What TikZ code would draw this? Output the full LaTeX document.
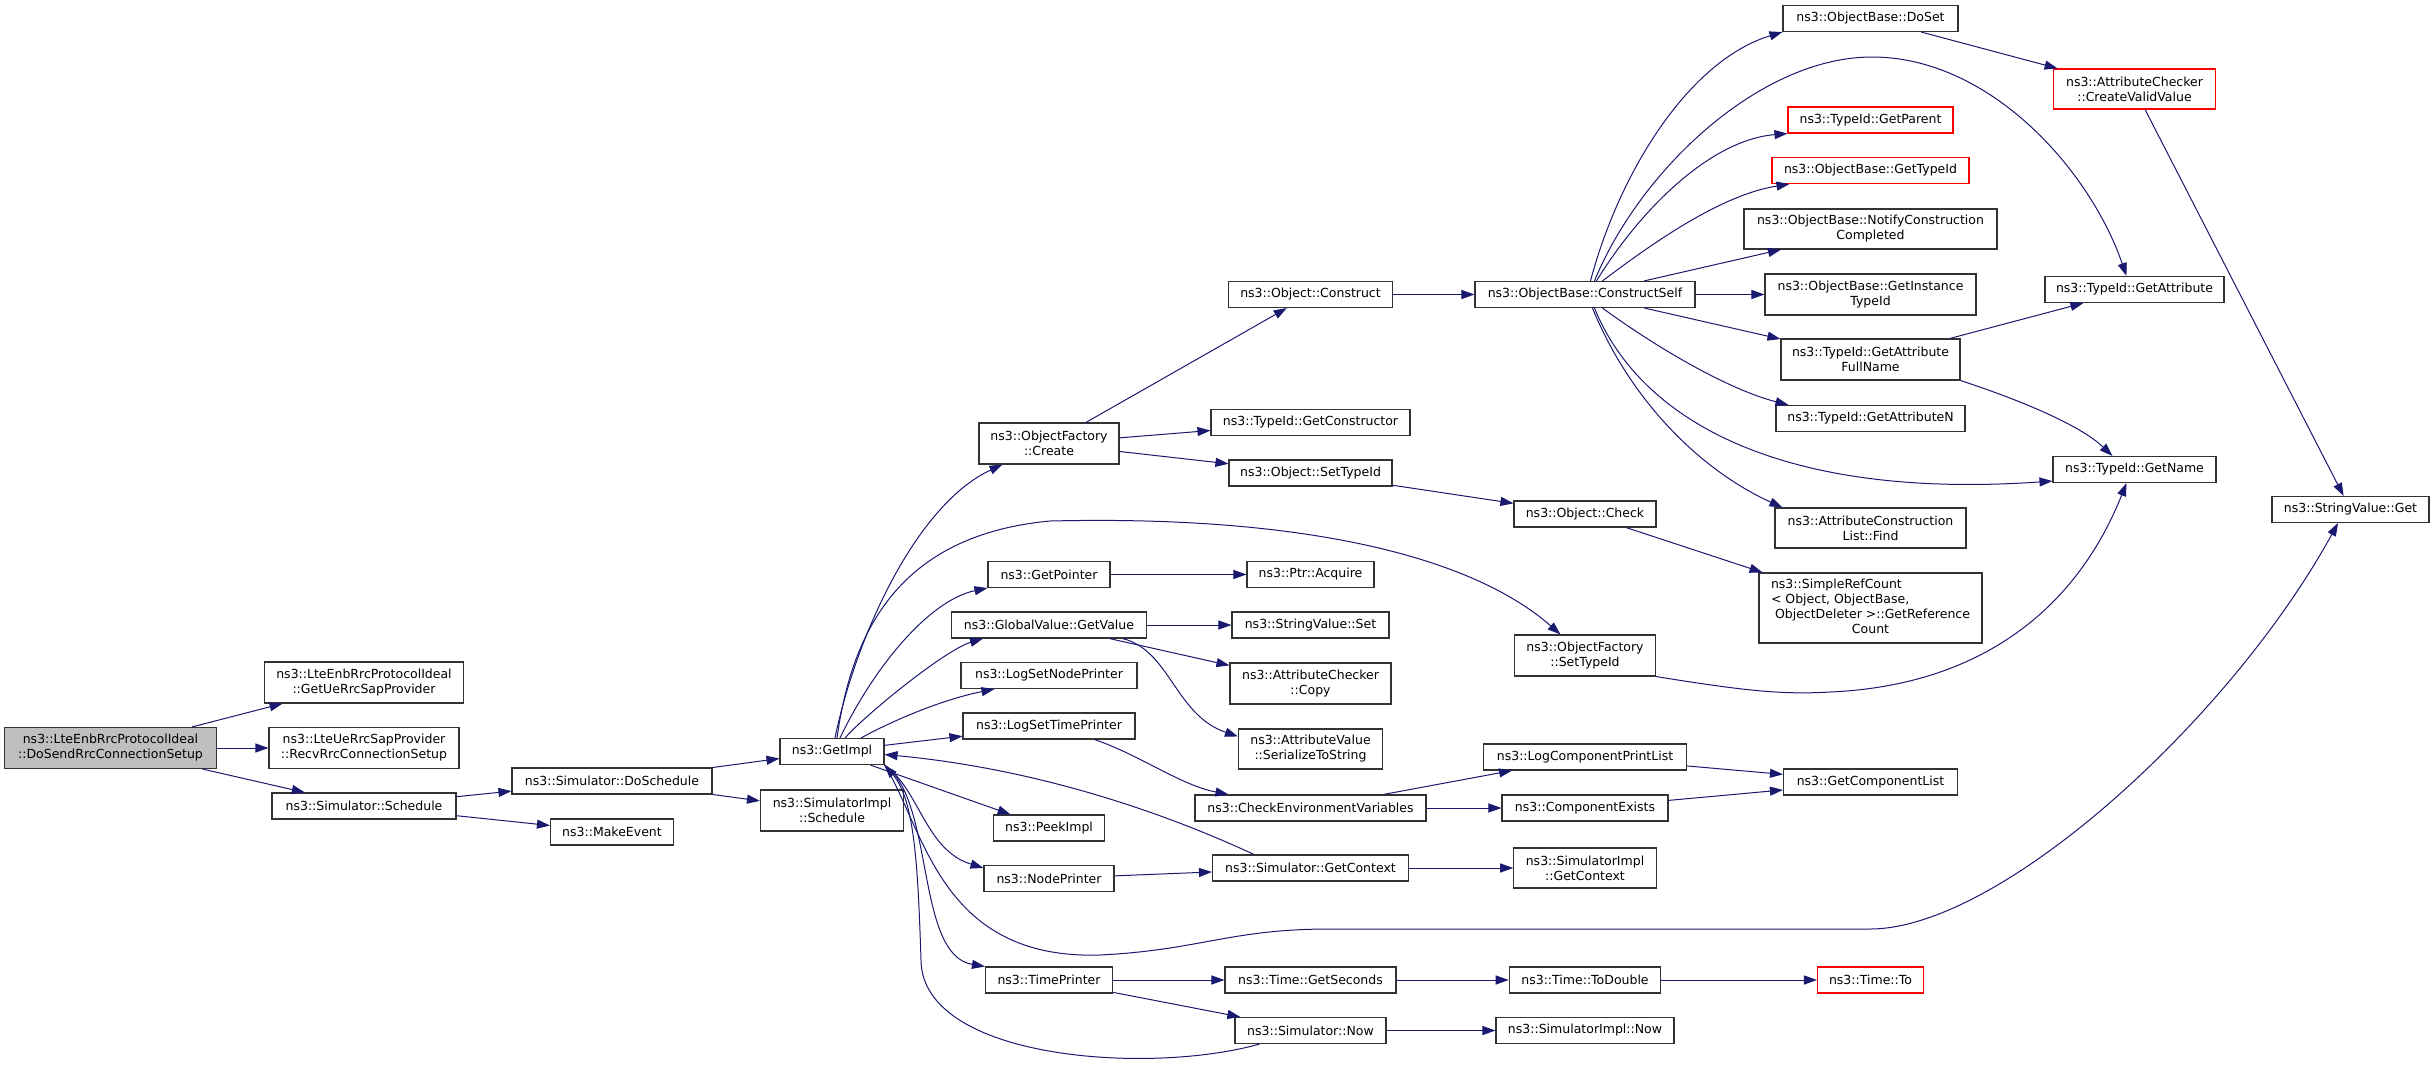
\documentclass[tikz,border=0pt]{standalone}
\usepackage{fontspec}
\setmainfont{DejaVu Sans}
\usepackage{tikz}
\usetikzlibrary{arrows.meta}

\definecolor{callblue}{HTML}{191970}
\definecolor{boxline}{HTML}{333333}
\definecolor{rootgray}{HTML}{BFBFBF}
\definecolor{cutred}{HTML}{FF0000}

\tikzset{
  fn/.style={draw=boxline, fill=white, line width=1.1pt, minimum height=26pt,
    inner xsep=3pt, inner ysep=2pt, align=center, font=\fontsize{12.5}{15}\selectfont},
  fnred/.style={fn, draw=cutred},
  fnroot/.style={fn, fill=rootgray},
  call/.style={draw=callblue, line width=1pt, -{Triangle[length=13pt, width=9pt]}},
}

\begin{document}
\begin{tikzpicture}[x=1pt, y=-1pt]
	\path[use as bounding box, fill=white] (0,0) rectangle (2435,1066);
	%nodes
	\node (root)[fnroot, minimum width=212pt, minimum height=41pt] at (110.5,748) {ns3::LteEnbRrcProtocolIdeal\\::DoSendRrcConnectionSetup};
	\node (recvrrc)[fn, right of=root, node distance=253.5pt, minimum width=190pt, minimum height=41pt] {ns3::LteUeRrcSapProvider\\::RecvRrcConnectionSetup};
	\node (getuerrc)[fn, above of=recvrrc, node distance=65.5pt, minimum width=199pt, minimum height=41pt] {ns3::LteEnbRrcProtocolIdeal\\::GetUeRrcSapProvider};
	\node (schedule)[fn, below of=recvrrc, node distance=58pt, minimum width=184pt] {ns3::Simulator::Schedule};
	
	\node (doschedule)[fn, minimum width=200pt] at (612,781) {ns3::Simulator::DoSchedule};
	\node (makeevent)[fn, below of=doschedule, node distance=51pt, minimum width=123pt] {ns3::MakeEvent};
	
	\node (getimpl)[fn, minimum width=104pt] at (832,751.5) {ns3::GetImpl};
	\node (simimplschedule)[fn, below of=getimpl, node distance=59pt, minimum width=143pt, minimum height=41pt] {ns3::SimulatorImpl\\::Schedule};
	
	\node (logtimeprinter)[fn, minimum width=172pt] at (1049,726) {ns3::LogSetTimePrinter};
	\node (lognodeprinter)[fn, above of=logtimeprinter, node distance=50.5pt, minimum width=176pt] {ns3::LogSetNodePrinter};
	\node (getvalue)[fn, above of=lognodeprinter, node distance=50.5pt, minimum width=195pt] {ns3::GlobalValue::GetValue};
	\node (getpointer)[fn, above of=getvalue, node distance=50.5pt, minimum width=122pt] {ns3::GetPointer};
	\node (create)[fn, above of=getpointer, node distance=131pt, minimum width=140pt, minimum height=41pt] {ns3::ObjectFactory\\::Create};
	\node (peekimpl)[fn, below of=logtimeprinter, node distance=102pt, minimum width=111pt] {ns3::PeekImpl};
	\node (nodeprinter)[fn, below of=peekimpl, node distance=50.5pt, minimum width=130pt] {ns3::NodePrinter};
	\node (timeprinter)[fn, below of=nodeprinter, node distance=101.5pt, minimum width=127pt] {ns3::TimePrinter};
	
	\node (construct)[fn, minimum width=164pt] at (1310.5,294.5) {ns3::Object::Construct};
	\node (getconstructor)[fn, minimum width=199pt] at (1310.5,422.5) {ns3::TypeId::GetConstructor};
	\node (objsettypeid)[fn, below of=getconstructor, node distance=50.5pt, minimum width=163pt] {ns3::Object::SetTypeId};
	\node (acquire)[fn, right of=getpointer, node distance=261.5pt, minimum width=127pt] {ns3::Ptr::Acquire};
	\node (stringset)[fn, right of=getvalue, node distance=261.5pt, minimum width=157pt] {ns3::StringValue::Set};
	\node (checkercopy)[fn, below of=stringset, node distance=58.5pt, minimum width=161pt, minimum height=41pt] {ns3::AttributeChecker\\::Copy};
	\node (serialize)[fn, below of=checkercopy, node distance=65.5pt, minimum width=144pt, minimum height=40pt] {ns3::AttributeValue\\::SerializeToString};
	\node (checkenv)[fn, below of=serialize, node distance=59pt, minimum width=231pt] {ns3::CheckEnvironmentVariables};
	\node (getcontext)[fn, below of=checkenv, node distance=60pt, minimum width=196pt] {ns3::Simulator::GetContext};
	\node (getseconds)[fn, right of=timeprinter, node distance=261.5pt, minimum width=171pt] {ns3::Time::GetSeconds};
	\node (simnow)[fn, below of=getseconds, node distance=50.5pt, minimum width=151pt] {ns3::Simulator::Now};
	
	\node (constructself)[fn, right of=construct, node distance=274.5pt, minimum width=220pt] {ns3::ObjectBase::ConstructSelf};
	\node (objcheck)[fn, minimum width=142pt] at (1585,514) {ns3::Object::Check};
	\node (factsettypeid)[fn, below of=objcheck, node distance=141.5pt, minimum width=141pt, minimum height=41pt] {ns3::ObjectFactory\\::SetTypeId};
	\node (compexists)[fn, right of=checkenv, node distance=274.5pt, minimum width=166pt] {ns3::ComponentExists};
	\node (logcomplist)[fn, above of=compexists, node distance=51pt, minimum width=203pt] {ns3::LogComponentPrintList};
	\node (implgetcontext)[fn, right of=getcontext, node distance=274.5pt, minimum width=142.5pt, minimum height=40pt] {ns3::SimulatorImpl\\::GetContext};
	\node (todouble)[fn, right of=getseconds, node distance=274.5pt, minimum width=151.5pt] {ns3::Time::ToDouble};
	\node (implnow)[fn, right of=simnow, node distance=274.5pt, minimum width=178pt] {ns3::SimulatorImpl::Now};
	
	\node (instancetypeid)[fn, right of=constructself, node distance=285.5pt, minimum width=211pt, minimum height=41pt] {ns3::ObjectBase::GetInstance\\TypeId};
	\node (notify)[fn, above of=instancetypeid, node distance=65.5pt, minimum width=253pt, minimum height=40pt] {ns3::ObjectBase::NotifyConstruction\\Completed};
	\node (gettypeid)[fnred, above of=notify, node distance=58.5pt, minimum width=197pt] {ns3::ObjectBase::GetTypeId};
	\node (getparent)[fnred, above of=gettypeid, node distance=50.5pt, minimum width=165pt] {ns3::TypeId::GetParent};
	\node (doset)[fn, above of=getparent, node distance=101.5pt, minimum width=175pt] {ns3::ObjectBase::DoSet};
	\node (attrfullname)[fn, below of=instancetypeid, node distance=65pt, minimum width=179pt, minimum height=41pt] {ns3::TypeId::GetAttribute\\FullName};
	\node (getattributen)[fn, below of=attrfullname, node distance=59pt, minimum width=189pt] {ns3::TypeId::GetAttributeN};
	\node (attrfind)[fn, below of=getattributen, node distance=109.5pt, minimum width=191pt, minimum height=40pt] {ns3::AttributeConstruction\\List::Find};
	\node (refcount)[fn, below of=attrfind, node distance=80pt, minimum width=223pt, minimum height=70pt] {\begin{tabular}{@{}l@{}}ns3::SimpleRefCount\\\textless{} Object, ObjectBase,\\\ ObjectDeleter \textgreater::GetReference\\\multicolumn{1}{@{}c@{}}{Count}\end{tabular}};
	\node (getcomplist)[fn, minimum width=174pt] at (1870.5,782) {ns3::GetComponentList};
	\node (timeto)[fnred, right of=todouble, node distance=285.5pt, minimum width=106pt] {ns3::Time::To};
	
	\node (createvalid)[fnred, minimum width=162pt, minimum height=40pt] at (2134.5,89) {ns3::AttributeChecker\\::CreateValidValue};
	\node (getattribute)[fn, minimum width=179pt] at (2134.5,289.5) {ns3::TypeId::GetAttribute};
	\node (getname)[fn, below of=getattribute, node distance=180pt, minimum width=163pt] {ns3::TypeId::GetName};
	
	\node (stringget)[fn, minimum width=157pt] at (2350.5,509.5) {ns3::StringValue::Get};
	
	%links
	\draw[call] (root) to (getuerrc);
	\draw[call] (root) to (recvrrc);
	\draw[call] (root) to (schedule);
	\draw[call] (schedule) to (doschedule);
	\draw[call] (schedule) to (makeevent);
	\draw[call] (doschedule) to (getimpl);
	\draw[call] (doschedule) to (simimplschedule);
	
	\draw[call] ([xshift=3pt]getimpl.north) .. controls (855,640) and (915,505) .. ([xshift=24pt]create.south west);
	\draw[call] ([xshift=5pt]getimpl.north) .. controls (852,630) and (900,535) .. (1050,521) .. controls (1300,515) and (1470,555) .. ([xshift=-24.5pt]factsettypeid.north);
	\draw[call] ([xshift=8pt]getimpl.north) .. controls (875,665) and (930,600) .. (getpointer.south west);
	\draw[call] ([xshift=13pt]getimpl.north) .. controls (865,715) and (945,650) .. ([xshift=32pt]getvalue.south west);
	\draw[call] ([xshift=29pt]getimpl.north) .. controls (890,722) and (940,700) .. ([xshift=34pt]lognodeprinter.south west);
	\draw[call] (getimpl) to (logtimeprinter);
	\draw[call] (getimpl) to (peekimpl);
	\draw[call] (getimpl.south east) .. controls (920,790) and (925,850) .. ([yshift=-3pt]nodeprinter.north west);
	\draw[call] (getimpl.south east) .. controls (935,800) and (915,955) .. (timeprinter.north west);
	\draw[call] (getimpl.south east) .. controls (925,830) and (940,960) .. (1100,955) .. controls (1200,950) and (1230,929) .. (1330,929) -- (1870,929) .. controls (2000,929) and (2230,720) .. ([xshift=-12.5pt]stringget.south);
	
	\draw[call] (create) to (construct);
	\draw[call] (create) to (getconstructor);
	\draw[call] (create) to (objsettypeid);
	\draw[call] (construct) to (constructself);
	\draw[call] (objsettypeid) to (objcheck);
	\draw[call] (objcheck) to (refcount);
	\draw[call] (getpointer) to (acquire);
	\draw[call] (getvalue) to (stringset);
	\draw[call] (getvalue) to (checkercopy);
	\draw[call] ([xshift=-24.5pt]getvalue.south east) .. controls (1170,650) and (1175,715) .. ([yshift=-8pt]serialize.north west);
	\draw[call] ([xshift=-41pt]logtimeprinter.south east) .. controls (1140,755) and (1180,785) .. ([xshift=34pt]checkenv.north west);
	\draw[call] (nodeprinter) to (getcontext);
	\draw[call] ([xshift=42pt]getcontext.north west) .. controls (1180,820) and (1050,770) .. ([yshift=-3pt]getimpl.east);
	\draw[call] (getcontext) to (implgetcontext);
	\draw[call] (timeprinter) to (getseconds);
	\draw[call] (timeprinter) to (simnow);
	\draw[call] (getseconds) to (todouble);
	\draw[call] (todouble) to (timeto);
	\draw[call] (simnow) to (implnow);
	\draw[call] ([xshift=25pt]simnow.south west) .. controls (1150,1075) and (922,1060) .. (921,960) .. controls (918,870) and (915,800) .. (getimpl.south east);
	\draw[call] (checkenv) to (logcomplist);
	\draw[call] (checkenv) to (compexists);
	\draw[call] (logcomplist) to (getcomplist);
	\draw[call] (compexists) to (getcomplist);
	
	\draw[call] ([xshift=116pt]constructself.north west) .. controls (1620,170) and (1690,60) .. (doset.south west);
	\draw[call] ([xshift=120pt]constructself.north west) .. controls (1640,170) and (1760,57) .. (1872,57) .. controls (1990,57) and (2090,170) .. ([xshift=82pt]getattribute.north west);
	\draw[call] ([xshift=122pt]constructself.north west) .. controls (1640,210) and (1710,140) .. (getparent.south west);
	\draw[call] ([xshift=128pt]constructself.north west) .. controls (1650,245) and (1720,195) .. ([xshift=18pt]gettypeid.south west);
	\draw[call] (constructself) to (notify);
	\draw[call] (constructself) to (instancetypeid);
	\draw[call] (constructself) to (attrfullname);
	\draw[call] ([xshift=128pt]constructself.south west) .. controls (1660,350) and (1730,390) .. ([xshift=13pt]getattributen.north west);
	\draw[call] ([xshift=120pt]constructself.south west) .. controls (1640,420) and (1780,500) .. ([yshift=2pt]getname.south west);
	\draw[call] ([xshift=118pt]constructself.south west) .. controls (1630,400) and (1700,470) .. ([xshift=8pt]attrfind.north west);
	
	\draw[call] (doset) to (createvalid);
	\draw[call] (createvalid) to (stringget);
	\draw[call] (attrfullname) to (getattribute);
	\draw[call] (attrfullname.south east) .. controls (2020,400) and (2080,425) .. ([xshift=60pt]getname.north west);
	\draw[call] (factsettypeid.south east) .. controls (1740,690) and (1780,695) .. (1830,692) .. controls (1990,685) and (2080,600) .. ([xshift=74pt]getname.south west);
\end{tikzpicture}
\end{document}
